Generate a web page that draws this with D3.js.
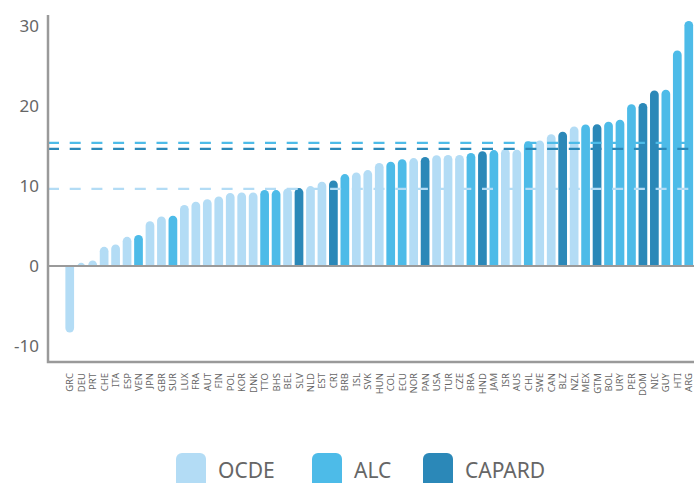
<!DOCTYPE html>
<html>
<head>
<meta charset="utf-8">
<script src="https://cdn.jsdelivr.net/npm/d3@7"></script>
<style>
  body { margin: 0; background: #fff; }
  text { font-family: "Noto Sans", "Open Sans", sans-serif; fill: #666; }
</style>
</head>
<body>
<svg id="chart" width="694" height="483"></svg>
<script>
// countries, sorted as in the chart
var countries = ["GRC","DEU","PRT","CHE","ITA","ESP","VEN","JPN","GBR","SUR","LUX","FRA","AUT","FIN","POL","KOR","DNK","TTO","BHS","BEL","SLV","NLD","EST","CRI","BRB","ISL","SVK","HUN","COL","ECU","NOR","PAN","USA","TUR","CZE","BRA","HND","JAM","ISR","AUS","CHL","SWE","CAN","BLZ","NZL","MEX","GTM","BOL","URY","PER","DOM","NIC","GUY","HTI","ARG"]
var values = [-8.3,0.4,0.7,2.4,2.7,3.65,3.9,5.6,6.2,6.3,7.65,8.05,8.35,8.7,9.15,9.2,9.2,9.5,9.5,9.7,9.75,10.0,10.55,10.7,11.5,11.7,12.0,12.9,13.05,13.35,13.5,13.65,13.85,13.9,13.9,14.15,14.35,14.5,14.65,14.55,15.6,15.7,16.5,16.8,17.45,17.7,17.75,18.05,18.3,20.25,20.4,21.95,22.05,26.95,30.65]
var groups = ["OCDE","OCDE","OCDE","OCDE","OCDE","OCDE","ALC","OCDE","OCDE","ALC","OCDE","OCDE","OCDE","OCDE","OCDE","OCDE","OCDE","ALC","ALC","OCDE","CAPARD","OCDE","OCDE","CAPARD","ALC","OCDE","OCDE","OCDE","ALC","ALC","OCDE","CAPARD","OCDE","OCDE","OCDE","ALC","CAPARD","ALC","OCDE","OCDE","ALC","OCDE","OCDE","CAPARD","OCDE","ALC","CAPARD","ALC","ALC","ALC","CAPARD","CAPARD","ALC","ALC","ALC"]

var groupNames = ["OCDE","ALC","CAPARD"]
var groupAverages = [9.65, 15.4, 14.65]
var groupColors = ["#b3dcf5","#4dbbe8","#2b88b8"]
var yTicks = [-10, 0, 10, 20, 30]

var data = countries.map(function (c, i) {
    return { code: c, value: values[i], group: groups[i] }
})

var svg = d3.select("#chart")
var left = 48, right = 694

var x = d3.scaleBand().domain(countries).range([64, 694.5])
    .paddingInner(0.24).paddingOuter(0.12)
var y = d3.scaleLinear().domain([-12, 31.4]).range([362, 15])
var color = d3.scaleOrdinal().domain(groupNames).range(groupColors)

// bars, rounded at the end away from zero
function barPath(d) {
    var x0 = x(d.code), w = x.bandwidth(), r = w / 2
    var y0 = y(0), y1 = y(d.value)
    if (d.value >= 0) {
        return "M" + x0 + "," + y0 + "V" + (y1 + r) +
            "A" + r + "," + r + " 0 0 1 " + (x0 + w) + "," + (y1 + r) +
            "V" + y0 + "Z"
    }
    return "M" + x0 + "," + y0 + "V" + (y1 - r) +
        "A" + r + "," + r + " 0 0 0 " + (x0 + w) + "," + (y1 - r) +
        "V" + y0 + "Z"
}

svg.append("g").selectAll("path").data(data).join("path")
    .attr("d", barPath)
    .attr("fill", function (d) { return color(d.group) })

// group averages
svg.append("g").selectAll("line").data(groupNames).join("line")
    .attr("x1", left).attr("x2", right)
    .attr("y1", function (d, i) { return y(groupAverages[i]) })
    .attr("y2", function (d, i) { return y(groupAverages[i]) })
    .attr("stroke", function (d) { return color(d) })
    .attr("stroke-width", 2.2)
    .attr("stroke-dasharray", "11,10.7")

// axes
svg.append("line").attr("x1", left).attr("x2", right)
    .attr("y1", y(0)).attr("y2", y(0))
    .attr("stroke", "#9a9a9a").attr("stroke-width", 2)
svg.append("path")
    .attr("d", "M" + left + "," + y(31.4) + "V" + y(-12) + "H" + right)
    .attr("fill", "none").attr("stroke", "#9a9a9a").attr("stroke-width", 2.5)

svg.append("g").selectAll("text").data(yTicks).join("text")
    .attr("x", 39).attr("y", function (d) { return y(d) })
    .attr("dy", "0.35em")
    .attr("text-anchor", "end")
    .attr("font-size", 17)
    .attr("fill", "#707070")
    .text(function (d) { return d })

svg.append("g").selectAll("text").data(countries).join("text")
    .attr("transform", function (d) {
        return "translate(" + (x(d) + x.bandwidth() / 2 + 3.5) + ",373) rotate(-90)"
    })
    .attr("text-anchor", "end")
    .attr("font-size", 9.5)
    .attr("fill", "#777")
    .text(function (d) { return d })

// legend
var legendX = [176, 312, 423]
var legend = svg.append("g").selectAll("g").data(groupNames).join("g")
    .attr("transform", function (d, i) { return "translate(" + legendX[i] + ",453)" })
legend.append("rect")
    .attr("width", 30).attr("height", 40).attr("rx", 6)
    .attr("fill", function (d) { return color(d) })
legend.append("text")
    .attr("x", 42).attr("y", 25)
    .attr("font-size", 21)
    .text(function (d) { return d })
</script>
</body>
</html>
